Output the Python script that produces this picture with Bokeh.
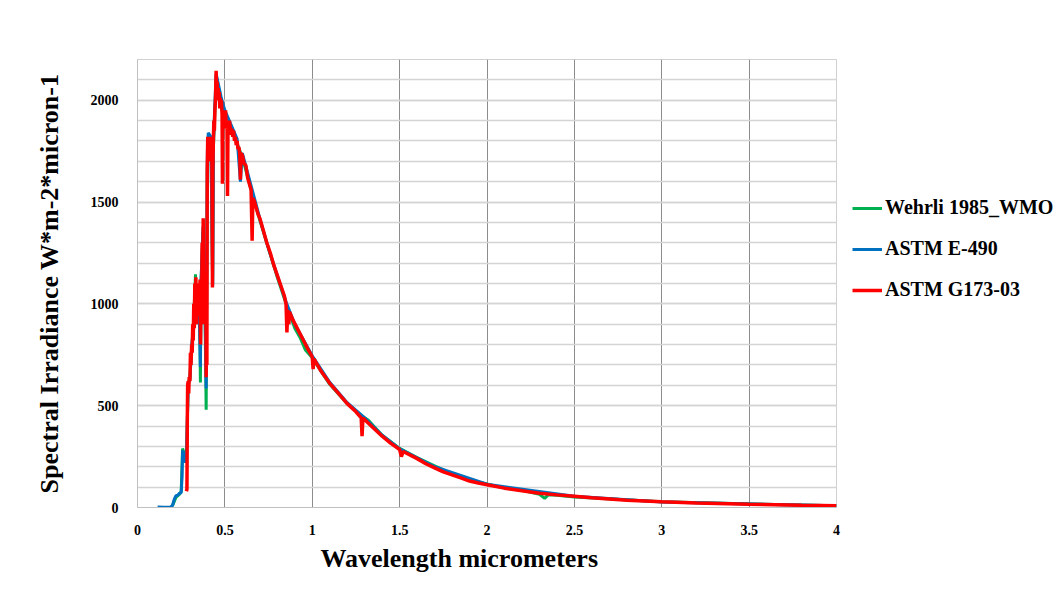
from bokeh.plotting import figure
from bokeh.models import (ColumnDataSource, Legend, LegendItem, SingleIntervalTicker,
                          FixedTicker, CustomJSTickFormatter, Title, Range1d)
from bokeh.embed import file_html
from bokeh.resources import INLINE

# ---------------- data ----------------
series_names = ["Wehrli 1985_WMO", "ASTM E-490", "ASTM G173-03"]
series_colors = ["#00b050", "#0070c0", "#ff0000"]

wehrli_wl = [0.200, 0.220, 0.240, 0.250, 0.258, 0.262, 0.270, 0.280, 0.285, 0.290,
             0.300, 0.310, 0.320, 0.332, 0.336, 0.345, 0.355, 0.360, 0.363, 0.375,
             0.385, 0.393, 0.396, 0.400, 0.410, 0.420, 0.430, 0.435, 0.450, 0.470,
             0.490, 0.510, 0.530, 0.560, 0.600, 0.650, 0.700, 0.750, 0.800, 0.850,
             0.900, 0.930, 0.960, 1.000, 1.100, 1.200, 1.300, 1.320, 1.400, 1.500,
             1.600, 1.700, 1.800, 1.900, 2.000, 2.100, 2.200, 2.300, 2.330, 2.350,
             2.400, 2.500, 3.000, 4.000]
wehrli_val = [8, 50, 65, 80, 290, 280, 250, 240, 420, 600,
              640, 780, 900, 1145, 900, 1080, 1000, 614, 1100, 1350,
              1050, 480, 1100, 1700, 1760, 1790, 1100, 1780, 2100, 2010,
              1930, 1880, 1860, 1810, 1720, 1560, 1410, 1270, 1130, 1000,
              880, 835, 775, 735, 605, 510, 440, 430, 355, 290,
              245, 205, 165, 135, 115, 95, 85, 65, 45, 62,
              60, 52, 28, 8]

e490_wl = [0.115, 0.150, 0.190, 0.200, 0.210, 0.220, 0.230, 0.240, 0.250, 0.255,
           0.258, 0.262, 0.270, 0.280, 0.285, 0.290, 0.300, 0.310, 0.320, 0.330,
           0.340, 0.350, 0.360, 0.363, 0.375, 0.385, 0.393, 0.396, 0.400, 0.405,
           0.420, 0.430, 0.435, 0.450, 0.460, 0.480, 0.500, 0.540, 0.570, 0.589,
           0.600, 0.650, 0.700, 0.750, 0.800, 0.850, 0.900, 1.000, 1.100, 1.200,
           1.300, 1.400, 1.500, 1.700, 2.000, 2.500, 3.000, 4.000]
e490_val = [2, 1, 3, 10, 40, 58, 60, 70, 72, 150,
            280, 270, 220, 260, 420, 610, 630, 790, 880, 1050,
            1000, 1080, 690, 1100, 1380, 1060, 585, 1150, 1750, 1840,
            1820, 1090, 1820, 2130, 2090, 2010, 1950, 1870, 1810, 1600,
            1740, 1580, 1420, 1270, 1140, 1010, 900, 745, 615, 515,
            440, 355, 288, 200, 114, 55, 27, 8]

g173_wl = [0.280, 0.283, 0.285, 0.287, 0.290, 0.293, 0.296, 0.300, 0.303, 0.306,
           0.310, 0.313, 0.316, 0.319, 0.322, 0.325, 0.328, 0.331, 0.334, 0.337,
           0.340, 0.343, 0.346, 0.349, 0.352, 0.355, 0.358, 0.361, 0.364, 0.367,
           0.370, 0.373, 0.376, 0.379, 0.382, 0.385, 0.388, 0.391, 0.393, 0.395,
           0.397, 0.399, 0.402, 0.405, 0.408, 0.411, 0.414, 0.417, 0.420, 0.423,
           0.426, 0.429, 0.431, 0.434, 0.437, 0.440, 0.443, 0.446, 0.450, 0.453,
           0.456, 0.459, 0.462, 0.465, 0.468, 0.471, 0.474, 0.477, 0.480, 0.484,
           0.486, 0.488, 0.492, 0.496, 0.500, 0.504, 0.508, 0.512, 0.515, 0.518,
           0.522, 0.526, 0.530, 0.535, 0.540, 0.545, 0.550, 0.555, 0.560, 0.565,
           0.570, 0.575, 0.580, 0.585, 0.589, 0.592, 0.600, 0.610, 0.620, 0.630,
           0.640, 0.650, 0.656, 0.660, 0.670, 0.680, 0.690, 0.700, 0.720, 0.740,
           0.760, 0.780, 0.800, 0.820, 0.840, 0.850, 0.855, 0.860, 0.866, 0.870,
           0.890, 0.920, 0.950, 0.980, 1.000, 1.005, 1.010, 1.050, 1.100, 1.150,
           1.200, 1.250, 1.280, 1.285, 1.290, 1.350, 1.400, 1.450, 1.500, 1.510,
           1.520, 1.600, 1.650, 1.700, 1.750, 1.800, 1.850, 1.900, 1.950, 2.000,
           2.100, 2.200, 2.300, 2.400, 2.500, 2.600, 2.800, 3.000, 3.200, 3.500,
           3.800, 4.000]
g173_val = [80, 90, 420, 600, 620, 560, 640, 620, 760, 700,
            800, 760, 900, 820, 1000, 880, 1100, 950, 1130, 900,
            1080, 940, 1100, 960, 1080, 1000, 1120, 800, 1120, 1000,
            1300, 1050, 1420, 900, 1150, 1000, 1120, 1100, 640, 1150,
            700, 1650, 1820, 1700, 1780, 1750, 1820, 1700, 1800, 1750,
            1700, 1080, 1650, 1800, 1900, 1850, 1950, 2000, 2145, 2060,
            2090, 2010, 2060, 2000, 2040, 1960, 2010, 1960, 2000, 1930,
            1590, 1940, 1880, 1950, 1900, 1950, 1860, 1900, 1530, 1880,
            1840, 1900, 1870, 1830, 1860, 1820, 1850, 1800, 1820, 1780,
            1800, 1760, 1770, 1740, 1610, 1740, 1730, 1690, 1680, 1620,
            1590, 1560, 1310, 1520, 1500, 1470, 1440, 1420, 1360, 1300,
            1250, 1190, 1140, 1090, 1040, 1000, 860, 970, 900, 960,
            920, 870, 820, 770, 740, 680, 730, 670, 610, 560,
            510, 470, 440, 350, 440, 390, 350, 315, 285, 250,
            275, 240, 215, 195, 175, 160, 145, 130, 120, 112,
            95, 82, 70, 62, 55, 48, 36, 28, 22, 16,
            11, 8]

x_ticks = [0, 0.5, 1, 1.5, 2, 2.5, 3, 3.5, 4]

# ---------------- figure ----------------
FONT = "Liberation Serif"

p = figure(width=1046, height=599, output_backend="svg", toolbar_location=None,
           x_range=Range1d(0, 4), y_range=Range1d(0, 2200),
           min_border_left=137, min_border_right=210, min_border_top=59,
           min_border_bottom=92, frame_width=699, frame_height=448)
p.background_fill_color = "white"
p.border_fill_color = "white"
p.outline_line_color = "#d0d0d0"

renderers = []
for wl, val, color, lw in [(wehrli_wl, wehrli_val, series_colors[0], 3),
                           (e490_wl, e490_val, series_colors[1], 3),
                           (g173_wl, g173_val, series_colors[2], 3.5)]:
    src = ColumnDataSource(dict(x=wl, y=val))
    r = p.line("x", "y", source=src, line_color=color, line_width=lw)
    renderers.append(r)

# axes
p.xaxis.ticker = FixedTicker(ticks=x_ticks)
p.xaxis.formatter = CustomJSTickFormatter(code="return tick.toString();")
p.yaxis.ticker = SingleIntervalTicker(interval=500, num_minor_ticks=5)

for ax in (p.xaxis[0], p.yaxis[0]):
    ax.major_tick_line_color = None
    ax.minor_tick_line_color = None
    ax.axis_line_color = "#c0c0c0"
    ax.major_label_text_font = FONT
    ax.major_label_text_font_style = "bold"
    ax.major_label_text_font_size = "14px"
    ax.major_label_text_color = "black"

p.xaxis.major_label_standoff = 11
p.yaxis.major_label_standoff = 13

p.yaxis.axis_label = "Spectral Irradiance W*m-2*micron-1"
p.yaxis.axis_label_text_font = FONT
p.yaxis.axis_label_text_font_style = "bold"
p.yaxis.axis_label_text_font_size = "26px"
p.yaxis.axis_label_text_color = "black"
p.yaxis.axis_label_standoff = 24

# grid
p.xgrid.grid_line_color = "#8c8c8c"
p.xgrid.grid_line_width = 1
p.ygrid.grid_line_color = "#d4d4d4"
p.ygrid.grid_line_width = 1.5
p.ygrid.minor_grid_line_color = "#d4d4d4"
p.ygrid.minor_grid_line_width = 1.5

# x-axis title, left-aligned with an offset as in the reference
p.add_layout(Title(text="Wavelength micrometers", align="left", offset=183,
                   text_font=FONT, text_font_style="bold",
                   text_font_size="26px", text_color="black", standoff=9), "below")

legend = Legend(items=[LegendItem(label=n, renderers=[r]) for n, r in zip(series_names, renderers)],
                location=(16, 206), orientation="vertical",
                label_text_font=FONT, label_text_font_style="bold",
                label_text_font_size="20px", label_text_color="black",
                glyph_width=30, glyph_height=20, label_height=20, spacing=18,
                padding=0, margin=0, label_standoff=3,
                border_line_color=None, background_fill_alpha=0)
p.add_layout(legend, "right")

open("out.html", "w").write(file_html(p, INLINE))
